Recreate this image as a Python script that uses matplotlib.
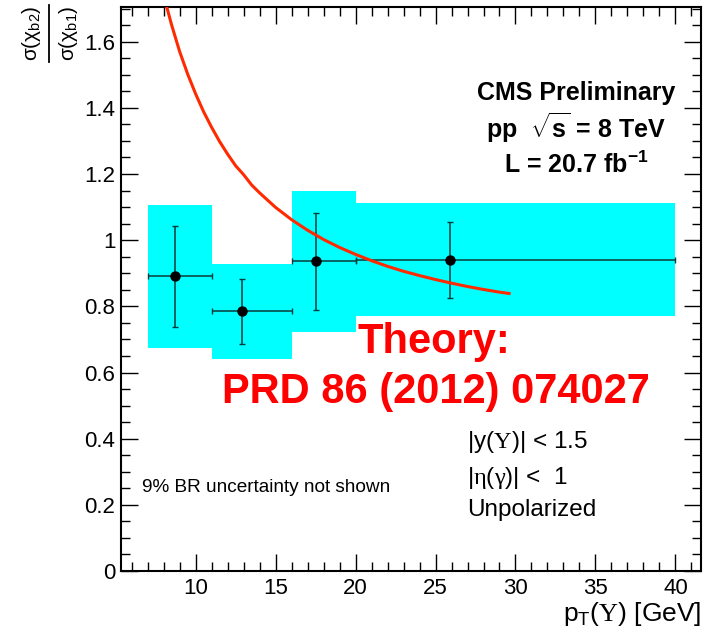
import matplotlib
matplotlib.use("Agg")
import matplotlib.pyplot as plt
from matplotlib.lines import Line2D
from matplotlib.ticker import MultipleLocator

plt.rcParams['font.family'] = ['Liberation Sans', 'DejaVu Sans']
plt.rcParams['mathtext.fontset'] = 'custom'
plt.rcParams['mathtext.rm'] = 'Liberation Sans'
plt.rcParams['mathtext.it'] = 'Liberation Sans:italic'
plt.rcParams['mathtext.bf'] = 'Liberation Sans:bold'
plt.rcParams['mathtext.sf'] = 'Liberation Sans'
plt.rcParams['mathtext.cal'] = 'Liberation Serif'

# pT bins of the measurement [GeV]
bin_lo = [7, 11, 16, 20]
bin_hi = [11, 16, 20, 40]
pt_mean = [8.7, 12.9, 17.5, 25.9]

# sigma(chi_b2)/sigma(chi_b1) with statistical and systematic uncertainties
ratio = [0.891, 0.785, 0.936, 0.940]
stat_err = [0.153, 0.099, 0.147, 0.116]
syst_err_lo = [0.216, 0.144, 0.213, 0.168]
syst_err_hi = [0.215, 0.143, 0.213, 0.171]

# theory prediction, PRD 86 (2012) 074027
theory_pt = [8.0, 8.5, 9.0, 9.5, 10.0, 10.5, 11.0, 11.5, 12.0, 12.5, 13.0, 13.5,
             14.0, 15.0, 16.0, 17.0, 18.0, 19.0, 20.0, 21.0, 22.0, 23.0, 24.0,
             25.0, 26.0, 27.0, 28.0, 29.0, 29.6]
theory_ratio = [1.740, 1.650, 1.570, 1.502, 1.442, 1.388, 1.341, 1.298, 1.260,
                1.225, 1.198, 1.167, 1.143, 1.099, 1.062, 1.030, 1.002, 0.978,
                0.957, 0.938, 0.921, 0.906, 0.893, 0.881, 0.870, 0.860, 0.851,
                0.843, 0.839]

fig = plt.figure(figsize=(7.15, 6.33), dpi=100)
ax = fig.add_axes([0.1692, 0.0979, 0.8112, 0.8906])

# systematic boxes
widths = [h - l for l, h in zip(bin_lo, bin_hi)]
heights = [lo + hi for lo, hi in zip(syst_err_lo, syst_err_hi)]
bottoms = [r - lo for r, lo in zip(ratio, syst_err_lo)]
ax.bar(bin_lo, heights, width=widths, bottom=bottoms, align='edge',
       color='#00ffff', linewidth=0, zorder=1)

# data points with stat errors, x bars span the bin
xerr = [[m - l for m, l in zip(pt_mean, bin_lo)],
        [h - m for m, h in zip(pt_mean, bin_hi)]]
ax.errorbar(pt_mean, ratio, xerr=xerr, yerr=stat_err, fmt='o', color='black',
            ecolor='#0a3a3a', markersize=6.5, elinewidth=1.1, capsize=2.5,
            capthick=1.0, zorder=3)

ax.plot(theory_pt, theory_ratio, color='#ff2a00', linewidth=2.2, zorder=4)

ax.set_xlim(5.33, 41.6)
ax.set_ylim(0, 1.704)
ax.xaxis.set_major_locator(MultipleLocator(5))
ax.xaxis.set_minor_locator(MultipleLocator(1))
ax.yaxis.set_major_locator(MultipleLocator(0.2))
ax.yaxis.set_minor_locator(MultipleLocator(0.05))
ax.set_yticks([0, 0.2, 0.4, 0.6, 0.8, 1.0, 1.2, 1.4, 1.6])
ax.set_yticklabels(['0', '0.2', '0.4', '0.6', '0.8', '1', '1.2', '1.4', '1.6'])
ax.set_xticks([10, 15, 20, 25, 30, 35, 40])
ax.tick_params(which='both', direction='in', top=True, right=True,
               labelsize=16, width=1.0)
ax.tick_params(which='major', length=12.5)
ax.tick_params(which='minor', length=6.5)
ax.tick_params(axis='y', pad=4)
ax.tick_params(axis='x', pad=5)
for s in ax.spines.values():
    s.set_linewidth(1.5)

ax.set_xlabel(r'p$_{\rm T}$($\mathcal{\Upsilon}$) [GeV]', fontsize=19, loc='right',
              labelpad=1)

# y title drawn as a rotated fraction: numerator, bar, denominator
fig.text(0.0434, 0.947, r'$\mathrm{\sigma(\chi_{b2})}$', rotation=90,
         ha='center', va='center', fontsize=15)
fig.text(0.0958, 0.947, r'$\mathrm{\sigma(\chi_{b1})}$', rotation=90,
         ha='center', va='center', fontsize=15)
fig.add_artist(Line2D([0.0685, 0.0685], [1 - 5 / 633, 1 - 62 / 633],
                      transform=fig.transFigure, color='black', linewidth=1.3))

ax.text(33.8, 1.445, 'CMS Preliminary', ha='center', va='center',
        fontsize=18, fontweight='bold')
ax.text(33.8, 1.339, r'pp  $\mathbf{\sqrt{s}}$ = 8 TeV', ha='center', va='center',
        fontsize=18, fontweight='bold')
ax.text(33.8, 1.227, r'L = 20.7 fb$^{\mathbf{-1}}$', ha='center', va='center',
        fontsize=18, fontweight='bold')

ax.text(24.9, 0.692, 'Theory:', ha='center', va='center', color='red',
        fontsize=30, fontweight='bold')
ax.text(25.0, 0.541, 'PRD 86 (2012) 074027', ha='center', va='center', color='red',
        fontsize=30, fontweight='bold')

ax.text(26.95, 0.390, r'|y($\mathcal{\Upsilon}$)| < 1.5', ha='left', va='center',
        fontsize=17.5)
ax.text(26.95, 0.281, r'|$\mathcal{\eta}$($\mathcal{\gamma}$)| <  1', ha='left',
        va='center', fontsize=17.5)
ax.text(26.95, 0.184, 'Unpolarized', ha='left', va='center', fontsize=17.5)
ax.text(6.64, 0.251, '9% BR uncertainty not shown', ha='left', va='center',
        fontsize=13.7)

fig.savefig('out.png', dpi=100)
